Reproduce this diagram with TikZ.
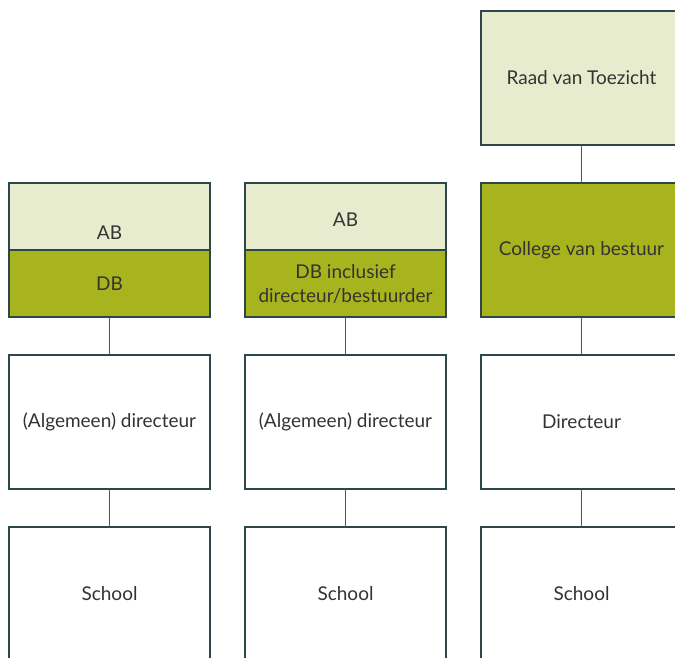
\documentclass[tikz,border=0pt]{standalone}
\usepackage{fontspec}
\setmainfont{Lato}
\usetikzlibrary{positioning}

\definecolor{rimteal}{HTML}{2B474A}
\definecolor{palegreen}{HTML}{E8ECCF}
\definecolor{olivegreen}{HTML}{A8B41E}
\definecolor{linkgray}{HTML}{555555}
\definecolor{inkgray}{HTML}{333333}

\begin{document}
\begin{tikzpicture}[
    x=1pt, y=-1pt,
    orgbox/.style={draw=rimteal, line width=1.3pt, fill=white, outer sep=0pt,
        minimum width=201pt, minimum height=134pt, inner sep=0pt,
        align=center, font=\fontsize{19}{24}\selectfont, text=inkgray},
    halfbox/.style={orgbox, minimum height=67pt},
    boardtxt/.style={font=\fontsize{19}{24}\selectfont, text=inkgray, align=center},
    link/.style={draw=linkgray, line width=1pt},
    node distance=38pt
]
\useasboundingbox (0,0) rectangle (675,657);
\clip (0,0) rectangle (675,657);

% Column 1: AB / DB
\node[halfbox, fill=palegreen] (ab1) at (109.5,216.5) {};
\node[boardtxt] (ab1t) at ([yshift=-16pt]ab1.center) {AB};
\node[halfbox, fill=olivegreen, below=0pt of ab1] (db1) {DB};
\node[orgbox, below=of db1] (dir1) {(Algemeen) directeur};
\node[orgbox, below=of dir1] (school1) {School};

% Column 2: AB / DB inclusief directeur
\node[halfbox, fill=palegreen] (ab2) at (345.5,216.5) {};
\node[boardtxt] (ab2t) at ([yshift=-3pt]ab2.center) {AB};
\node[halfbox, fill=olivegreen, below=0pt of ab2] (db2) {DB inclusief\\directeur/bestuurder};
\node[orgbox, below=of db2] (dir2) {(Algemeen) directeur};
\node[orgbox, below=of dir2] (school2) {School};

% Column 3: Raad van Toezicht / College van bestuur
\node[orgbox, fill=palegreen] (rvt) at (581.5,78) {Raad van Toezicht};
\node[orgbox, fill=olivegreen, below=of rvt] (cvb) {College van bestuur};
\node[orgbox, below=of cvb] (dir3) {Directeur};
\node[orgbox, below=of dir3] (school3) {School};

% connectors
\draw[link] (db1) -- (dir1);
\draw[link] (dir1) -- (school1);
\draw[link] (db2) -- (dir2);
\draw[link] (dir2) -- (school2);
\draw[link] (rvt) -- (cvb);
\draw[link] (cvb) -- (dir3);
\draw[link] (dir3) -- (school3);
\end{tikzpicture}
\end{document}
